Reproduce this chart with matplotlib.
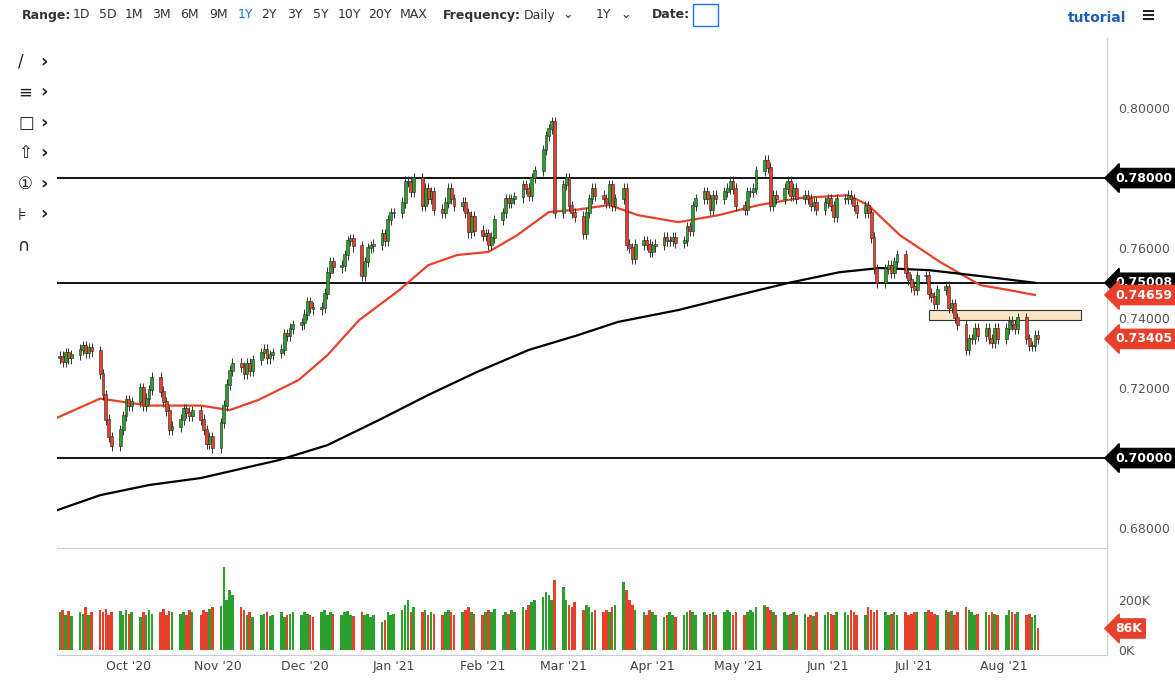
import numpy as np
import pandas as pd
import matplotlib
matplotlib.use("Agg")
import matplotlib.pyplot as plt
import matplotlib.dates as mdates
from matplotlib.patches import Rectangle

closes = [
0.7290,0.7275,0.7300,0.7285,0.7295, 0.7310,0.7320,0.7300,0.7315,0.7305,
0.7240,0.7180,0.7110,0.7060,0.7035, 0.7080,0.7120,0.7165,0.7150,0.7160,
0.7200,0.7150,0.7170,0.7195,0.7230, 0.7190,0.7160,0.7135,0.7080,0.7090,
0.7110,0.7140,0.7130,0.7120,0.7135, 0.7110,0.7080,0.7040,0.7060,0.7030,
0.7100,0.7150,0.7210,0.7250,0.7270, 0.7260,0.7240,0.7270,0.7250,0.7280,
0.7300,0.7310,0.7285,0.7295,0.7300, 0.7310,0.7355,0.7350,0.7370,0.7380,
0.7385,0.7410,0.7445,0.7430,0.7425, 0.7430,0.7470,0.7530,0.7560,0.7545,
0.7550,0.7580,0.7620,0.7625,0.7605, 0.7520,0.7560,0.7600,0.7605,0.7610,
0.7640,0.7620,0.7680,0.7700,0.7700, 0.7730,0.7790,0.7790,0.7760,0.7800,
0.7720,0.7770,0.7740,0.7760,0.7710, 0.7700,0.7730,0.7770,0.7740,0.7720,
0.7730,0.7700,0.7645,0.7690,0.7650, 0.7635,0.7640,0.7610,0.7630,0.7680,
0.7700,0.7740,0.7730,0.7740,0.7745, 0.7780,0.7770,0.7750,0.7800,0.7820,
0.7880,0.7920,0.7940,0.7960,0.7700, 0.7780,0.7800,0.7720,0.7700,0.7690,
0.7640,0.7700,0.7740,0.7770,0.7750, 0.7740,0.7730,0.7780,0.7720,0.7740,
0.7770,0.7610,0.7600,0.7570,0.7610, 0.7620,0.7610,0.7590,0.7605,0.7610,
0.7630,0.7620,0.7620,0.7630,0.7615, 0.7620,0.7660,0.7650,0.7720,0.7740,
0.7760,0.7740,0.7710,0.7750,0.7740, 0.7760,0.7770,0.7790,0.7770,0.7720,
0.7710,0.7760,0.7760,0.7770,0.7820, 0.7850,0.7830,0.7720,0.7750,0.7740,
0.7770,0.7790,0.7750,0.7770,0.7740, 0.7750,0.7740,0.7720,0.7730,0.7710,
0.7730,0.7740,0.7720,0.7690,0.7740, 0.7740,0.7750,0.7740,0.7720,0.7700,
0.7720,0.7700,0.7630,0.7540,0.7500, 0.7540,0.7550,0.7530,0.7560,0.7580,
0.7530,0.7510,0.7490,0.7480,0.7520, 0.7520,0.7470,0.7460,0.7440,0.7480,
0.7490,0.7430,0.7440,0.7400,0.7380, 0.7310,0.7340,0.7340,0.7370,0.7350,
0.7370,0.7340,0.7330,0.7370,0.7340, 0.7370,0.7390,0.7380,0.7370,0.7400,
0.7340,0.7320,0.7320,0.7350,0.73405]

volumes_k = [
150,160,140,155,135, 150,145,170,140,150,
160,150,165,140,150, 155,140,160,145,150,
130,150,140,160,145, 150,165,140,155,150,
145,150,140,160,150, 140,160,150,165,170,
175,330,200,240,220, 170,160,140,150,130,
140,145,150,135,140, 150,130,140,145,150,
140,150,145,140,130, 150,160,140,150,145,
140,150,155,140,135, 150,140,145,130,140,
110,120,150,140,145, 160,180,200,150,170,
150,160,140,150,145, 140,150,160,150,140,
150,160,170,150,145, 140,150,160,150,165,
140,150,145,160,150, 170,160,180,190,200,
210,230,220,200,280, 250,200,180,170,190,
160,180,170,150,160, 150,160,150,170,180,
270,240,200,180,160, 150,140,160,150,140,
130,140,150,140,130, 140,150,160,150,140,
150,140,145,150,140, 150,160,150,140,150,
140,150,160,150,170, 180,170,160,150,140,
150,140,145,150,140, 145,130,140,135,150,
140,150,145,140,150, 150,140,160,150,140,
140,170,160,150,160, 150,140,145,150,140,
150,140,145,150,150, 150,160,150,145,140,
160,150,155,140,150, 170,160,150,140,145,
150,140,150,145,140, 140,160,150,145,150,
140,145,130,140,86]

red_ma_dates = ["2020-09-06","2020-09-21","2020-10-08","2020-10-26","2020-11-05","2020-11-15",
    "2020-11-29","2020-12-09","2020-12-20","2021-01-03","2021-01-13","2021-01-23","2021-02-03",
    "2021-02-13","2021-02-24","2021-03-06","2021-03-17","2021-03-27","2021-04-10","2021-04-24",
    "2021-05-08","2021-05-22","2021-06-08","2021-06-15","2021-06-26","2021-07-10","2021-07-24",
    "2021-08-03","2021-08-12"]
red_ma = [0.7115,0.7170,0.7150,0.7150,0.7137,0.7166,0.7223,0.7294,0.7394,0.7480,0.7551,0.7580,
    0.7589,0.7637,0.7703,0.7710,0.7723,0.7694,0.7674,0.7694,0.7723,0.7743,0.7751,0.7723,0.7637,
    0.7560,0.7494,0.7480,0.74659]

black_ma_dates = ["2020-09-06","2020-09-21","2020-10-08","2020-10-26","2020-11-22","2020-12-09",
    "2020-12-27","2021-01-13","2021-01-30","2021-02-17","2021-03-06","2021-03-20","2021-04-10",
    "2021-05-01","2021-05-18","2021-06-05","2021-06-19","2021-07-06","2021-07-24","2021-08-12"]
black_ma = [0.6851,0.6894,0.6923,0.6943,0.6994,0.7037,0.7109,0.7180,0.7246,0.7309,0.7351,0.7389,
    0.7423,0.7466,0.7500,0.7531,0.7543,0.7537,0.7520,0.75008]

h_levels = [0.78, 0.75, 0.70]
zone_dates = ["2021-07-06", "2021-08-28"]
zone_prices = [0.7394, 0.7423]
price_ticks = [0.68, 0.72, 0.74, 0.76, 0.80]
month_ticks = pd.date_range("2020-10-01", "2021-08-01", freq="MS")
range_buttons = ["1D", "5D", "1M", "3M", "6M", "9M", "1Y", "2Y", "3Y", "5Y", "10Y", "20Y", "MAX"]

dates = pd.bdate_range("2020-09-07", "2021-08-13")
closes = np.array(closes)
opens = np.concatenate([[0.7285], closes[:-1]])
up = closes >= opens
x = mdates.date2num(dates)

GREEN = "#2ca02c"; RED = "#e8412b"
W, H = 1175, 691
fig = plt.figure(figsize=(11.75, 6.91), dpi=100)
ax = fig.add_axes([0.0485, 0.2069, 0.8936, 0.738])
axv = fig.add_axes([0.0485, 0.0521, 0.8936, 0.152], sharex=ax)

xmin = mdates.date2num(pd.Timestamp("2020-09-06")); xmax = mdates.date2num(pd.Timestamp("2021-09-06"))
ax.set_xlim(xmin, xmax)
ax.set_ylim(0.6743, 0.82)

for lv in h_levels:
    ax.axhline(lv, color="black", lw=1.3, zorder=1)
z0, z1 = mdates.date2num(pd.to_datetime(zone_dates))
ax.add_patch(Rectangle((z0, zone_prices[0]), z1 - z0, zone_prices[1] - zone_prices[0],
                       facecolor="#fbe6c4", edgecolor="#333333", lw=0.8, zorder=2))
ax.plot(pd.to_datetime(red_ma_dates), red_ma, color="#e8412b", lw=1.6, zorder=3)
ax.plot(pd.to_datetime(black_ma_dates), black_ma, color="black", lw=1.6, zorder=3)

hi = np.maximum(opens, closes) + 0.0015
lo = np.minimum(opens, closes) - 0.0015
cols = np.where(up, GREEN, RED)
ax.vlines(x, lo, hi, color="#333333", lw=0.7, zorder=4)
ax.bar(x, np.abs(closes - opens) + 0.0003, bottom=np.minimum(opens, closes), width=1.0,
       color=cols, edgecolor="#222222", linewidth=0.4, zorder=5)

axv.bar(x, np.array(volumes_k), width=0.9, color=cols, zorder=2)
axv.set_ylim(-20, 400)

for a in (ax, axv):
    a.yaxis.tick_right()
    for s in ("top", "left"):
        a.spines[s].set_visible(False)
    a.spines["right"].set_color("#cccccc"); a.spines["bottom"].set_color("#cccccc")
    a.tick_params(axis="y", length=0, labelsize=9, colors="#555555", pad=8)
ax.set_yticks(price_ticks)
ax.set_yticklabels(["%.5f" % v for v in price_ticks])
axv.set_yticks([0, 200]); axv.set_yticklabels(["0K", "200K"])
plt.setp(ax.get_xticklabels(), visible=False)
ax.tick_params(axis="x", length=0)
axv.set_xticks(mdates.date2num(month_ticks))
axv.set_xticklabels([d.strftime("%b '%y") for d in month_ticks])
axv.tick_params(axis="x", length=0, labelsize=9, colors="#444444")

def tag(a, y, text, color):
    a.annotate(text, xy=(1.0, y), xycoords=("axes fraction", "data"), xytext=(6, 0),
               textcoords="offset points", va="center", ha="left", fontsize=9,
               fontweight="bold", color="white",
               bbox=dict(boxstyle="larrow,pad=0.25", fc=color, ec=color))
tag(ax, 0.78, "0.78000", "black"); tag(ax, 0.75008, "0.75008", "black")
tag(ax, 0.70, "0.70000", "black"); tag(ax, 0.74659, "0.74659", RED)
tag(ax, 0.73405, "0.73405", RED); tag(axv, 86, "86K", RED)

def top(px, text, **kw):
    fig.text(px / W, 1 - 15 / H, text, fontsize=9, va="center", **kw)
top(22, "Range:", fontweight="bold", color="#333")
bx = [73, 99, 125, 152, 180, 209, 238, 261, 287, 313, 338, 368, 400]
for px, r in zip(bx, range_buttons):
    top(px, r, color="#1a73e8" if r == "1Y" else "#333")
top(443, "Frequency:", fontweight="bold", color="#333")
top(524, "Daily", color="#333"); top(562, "⌄", color="#333")
top(596, "1Y", color="#333"); top(620, "⌄", color="#333")
top(652, "Date:", fontweight="bold", color="#333")
fig.patches.append(Rectangle((693 / W, 1 - 26 / H), 25 / W, 22 / H, transform=fig.transFigure,
                             fill=False, edgecolor="#1a73e8", lw=1))
fig.text(1068 / W, 1 - 18 / H, "tutorial", fontsize=10, fontweight="bold", va="center", color="#1a5fb4")
fig.text(1140 / W, 1 - 16 / H, "≡", fontsize=13, fontweight="bold", va="center", color="#222")
for i, sym in enumerate(["/", "≡", "□", "⇧", "①", "⊧", "∩"]):
    yy = 1 - (62 + i * 30.5) / H
    fig.text(18 / W, yy, sym, fontsize=12, va="center", color="#222")
    if i < 6:
        fig.text(40 / W, yy, "›", fontsize=13, va="center", color="#222", fontweight="bold")

fig.savefig("out.png", dpi=100)
